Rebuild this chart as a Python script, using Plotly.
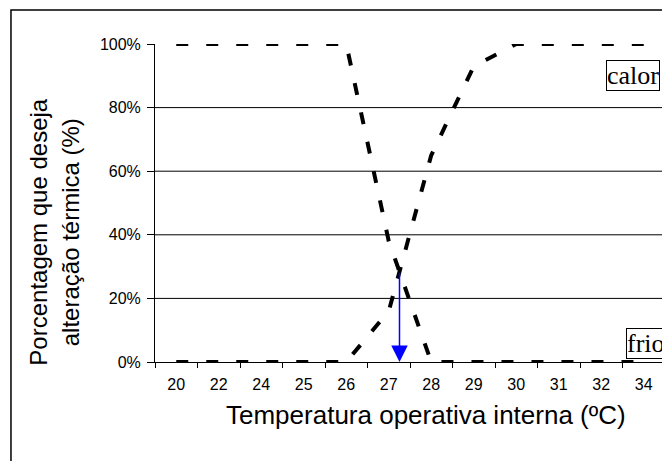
import plotly.graph_objects as go

# ---- data ----
categories = ["20", "22", "24", "25", "26", "27", "28", "29", "30", "31", "32", "34"]
frio = [100, 100, 100, 100, 100, 38, 0, 0, 0, 0, 0, 0]
calor = [0, 0, 0, 0, 0, 16, 65, 93, 100, 100, 100, 100]
y_ticks = [0, 20, 40, 60, 80, 100]
y_tick_labels = [f"{v}%" for v in y_ticks]
grid_levels = [20, 40, 60, 80]

FONT = "Arial, Liberation Sans, sans-serif"
SERIF = "Times New Roman, Liberation Serif, serif"

fig = go.Figure()
for name, vals in (("frio", frio), ("calor", calor)):
    fig.add_trace(go.Scatter(
        x=categories, y=vals, mode="lines", name=name,
        line=dict(color="black", width=4, dash="12px,18px"),
        hoverinfo="skip",
    ))

# intersection of the two curves (from data)
xi, yi = None, None
for i in range(len(frio) - 1):
    d0 = frio[i] - calor[i]
    d1 = frio[i + 1] - calor[i + 1]
    if d0 > 0 and d1 <= 0:
        f = d0 / (d0 - d1)
        xi = i + f
        yi = frio[i] + (frio[i + 1] - frio[i]) * f
        break

shapes = []
for g in grid_levels:
    shapes.append(dict(type="line", xref="paper", yref="y", x0=0, x1=1, y0=g, y1=g,
                       line=dict(color="black", width=1), layer="below"))
# outer chart border
shapes.append(dict(type="rect", xref="paper", yref="paper",
                   x0=-0.2824, x1=1.2, y0=-0.6, y1=1.107,
                   line=dict(color="black", width=1.5)))

annotations = [
    dict(x=xi, y=0, ax=xi, ay=yi, xref="x", yref="y", axref="x", ayref="y",
         text="", showarrow=True, arrowhead=2, arrowsize=2.2, arrowwidth=1.5,
         arrowcolor="#0000FF", standoff=0),
    dict(text="calor", xref="paper", yref="paper", x=0.884, y=0.95,
         xanchor="left", yanchor="top", showarrow=False,
         font=dict(family=SERIF, size=26, color="black"),
         bordercolor="black", borderwidth=1, borderpad=0, bgcolor="white"),
    dict(text="frio", xref="paper", yref="paper", x=0.924, y=0.106,
         xanchor="left", yanchor="top", showarrow=False,
         font=dict(family=SERIF, size=26, color="black"),
         bordercolor="black", borderwidth=1, borderpad=0, bgcolor="white"),
    dict(text="Temperatura operativa interna (ºC)", xref="paper", yref="paper",
         x=0.531, y=-0.167, xanchor="center", yanchor="middle", showarrow=False,
         font=dict(family=FONT, size=26, color="black")),
    dict(text="Porcentagem que deseja<br>alteração térmica (%)", xref="paper", yref="paper",
         x=-0.198, y=0.41, xanchor="center", yanchor="middle", showarrow=False,
         textangle=-90, font=dict(family=FONT, size=24, color="black")),
]

fig.update_layout(
    width=662, height=453,
    margin=dict(l=147, r=5, t=36, b=99),
    paper_bgcolor="white", plot_bgcolor="white",
    showlegend=False,
    font=dict(family=FONT, color="black"),
    shapes=shapes,
    annotations=annotations,
    xaxis=dict(type="category", categoryorder="array", categoryarray=categories,
               range=[-0.5, len(categories) - 0.5], tickson="boundaries",
               ticks="outside", ticklen=5, tickcolor="black",
               showline=True, linecolor="black", linewidth=1,
               showgrid=False, zeroline=False,
               tickfont=dict(size=16, color="black"), ticklabelstandoff=8),
    yaxis=dict(range=[0, 100], tickmode="array", tickvals=y_ticks, ticktext=y_tick_labels,
               ticks="outside", ticklen=7, tickcolor="black",
               showline=True, linecolor="black", linewidth=1,
               showgrid=False, zeroline=False,
               tickfont=dict(size=16, color="black"), ticklabelstandoff=3),
)

fig.write_html("out.html")
